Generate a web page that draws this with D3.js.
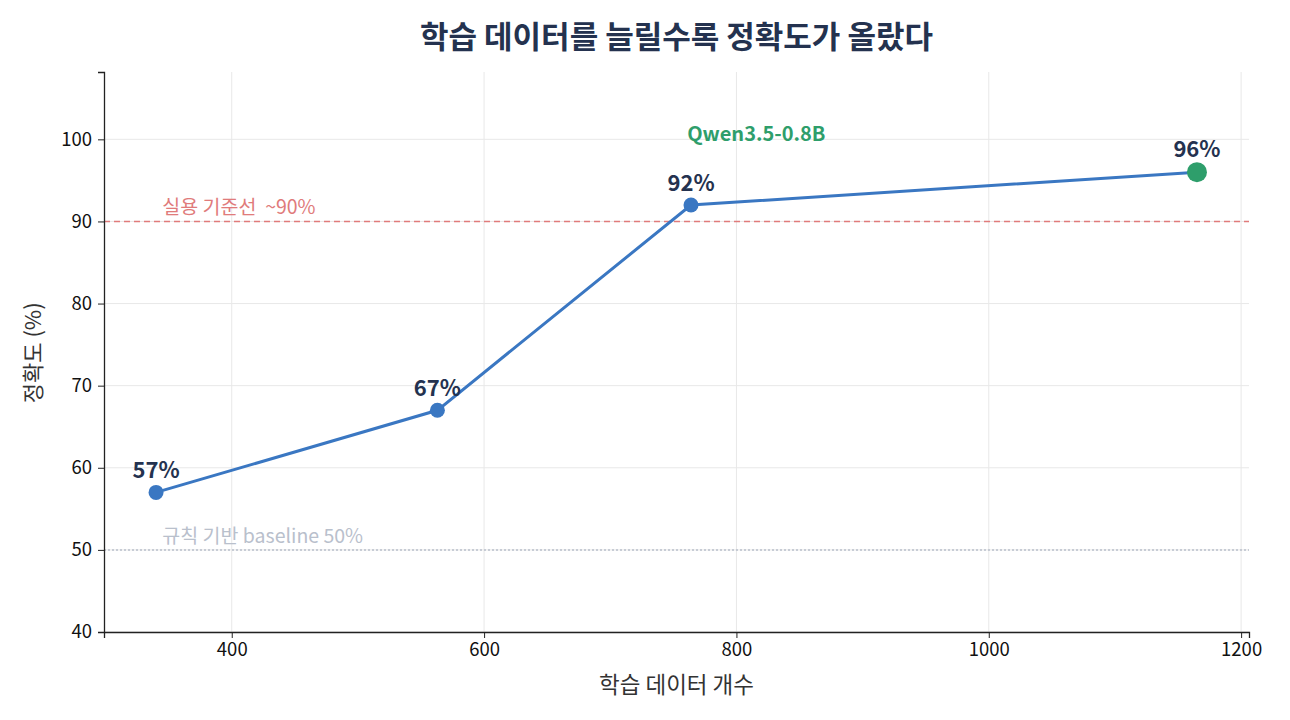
<!DOCTYPE html>
<html>
<head>
<meta charset="utf-8">
<script src="https://cdn.jsdelivr.net/npm/d3@7"></script>
<style>
  body { margin: 0; background: #fff; }
  svg text { font-family: 'Noto Sans CJK KR', 'Noto Sans', sans-serif; }
  .grid line { stroke: #e8e8e8; stroke-width: 1; }
  .axis path, .axis line { stroke: #222; }
  .axis text { font-size: 18.5px; fill: #111; }
</style>
</head>
<body>
<div id="chart"></div>
<script>
// 데이터
const sampleCounts = [340, 563, 764, 1165];
const accuracy = [57, 67, 92, 96];
const pointLabels = ["57%", "67%", "92%", "96%"];
const xTicks = [400, 600, 800, 1000, 1200];
const yTicks = [40, 50, 60, 70, 80, 90, 100];
const refLines = [
  { value: 90, label: "실용 기준선 ~90%", color: "#e07b7b", dash: "6,4" },
  { value: 50, label: "규칙 기반 baseline 50%", color: "#b9c0cc", dash: "2,2" }
];
const modelName = "Qwen3.5-0.8B";

const W = 1290, H = 720;
const margin = { top: 72, right: 41, bottom: 88, left: 104 };
const width = W - margin.left - margin.right;
const height = H - margin.top - margin.bottom;

const svg = d3.select("#chart").append("svg")
  .attr("width", W)
  .attr("height", H);

const g = svg.append("g")
  .attr("transform", `translate(${margin.left},${margin.top})`);

// 스케일 (matplotlib 기본 여백 5%)
const xPad = (d3.max(sampleCounts) - d3.min(sampleCounts)) * 0.05;
const x = d3.scaleLinear()
  .domain([d3.min(sampleCounts) - xPad, d3.max(sampleCounts) + xPad])
  .range([0, width]);
const y = d3.scaleLinear()
  .domain([40, 108.2])
  .range([height, 0]);

// 그리드
g.append("g").attr("class", "grid")
  .selectAll("line").data(xTicks).enter().append("line")
  .attr("x1", d => x(d)).attr("x2", d => x(d))
  .attr("y1", 0).attr("y2", height);
g.append("g").attr("class", "grid")
  .selectAll("line").data(yTicks).enter().append("line")
  .attr("x1", 0).attr("x2", width)
  .attr("y1", d => y(d)).attr("y2", d => y(d));

// 기준선
refLines.forEach(r => {
  g.append("line")
    .attr("x1", 0).attr("x2", width)
    .attr("y1", y(r.value)).attr("y2", y(r.value))
    .attr("stroke", r.color)
    .attr("stroke-width", 1.5)
    .attr("stroke-dasharray", r.dash);
  g.append("text")
    .attr("x", x(345))
    .attr("y", y(r.value + 0.85))
    .attr("font-size", 19.5)
    .attr("fill", r.color)
    .attr("xml:space", "preserve")
    .text(r.label.replace(" ~", "  ~"));
});

// 축
g.append("g").attr("class", "axis")
  .attr("transform", `translate(0,${height})`)
  .call(d3.axisBottom(x).tickValues(xTicks).tickSize(6).tickPadding(5).tickFormat(d3.format("d")))
  .call(s => s.select(".domain").attr("stroke-width", 1.3));
g.append("g").attr("class", "axis")
  .call(d3.axisLeft(y).tickValues(yTicks).tickSize(6).tickPadding(6).tickFormat(d3.format("d")))
  .call(s => s.select(".domain").attr("stroke-width", 1.3));

// 축 제목
svg.append("text")
  .attr("x", margin.left + width / 2)
  .attr("y", 693)
  .attr("text-anchor", "middle")
  .attr("font-size", 22.5)
  .attr("fill", "#333")
  .text("학습 데이터 개수");
svg.append("text")
  .attr("transform", `translate(41,${margin.top + y(74)})rotate(-90)`)
  .attr("text-anchor", "middle")
  .attr("font-size", 22)
  .attr("fill", "#333")
  .text("정확도 (%)");

// 제목
svg.append("text")
  .attr("x", margin.left + width / 2)
  .attr("y", 48)
  .attr("text-anchor", "middle")
  .attr("font-size", 31)
  .attr("font-weight", "bold")
  .attr("fill", "#24324f")
  .text("학습 데이터를 늘릴수록 정확도가 올랐다");

// 선
const pts = sampleCounts.map((c, i) => ({ x: c, y: accuracy[i], label: pointLabels[i] }));
const line = d3.line().x(d => x(d.x)).y(d => y(d.y));
g.append("path")
  .datum(pts)
  .attr("fill", "none")
  .attr("stroke", "#3a77c2")
  .attr("stroke-width", 3)
  .attr("d", line);

const last = pts.length - 1;
g.selectAll(".dot").data(pts).enter().append("circle")
  .attr("cx", d => x(d.x))
  .attr("cy", d => y(d.y))
  .attr("r", (d, i) => i === last ? 10 : 7.5)
  .attr("fill", (d, i) => i === last ? "#2e9e6b" : "#3a77c2");

g.selectAll(".lbl").data(pts).enter().append("text")
  .attr("x", d => x(d.x))
  .attr("y", (d, i) => y(d.y) - (i === last ? 15 : 14))
  .attr("text-anchor", "middle")
  .attr("font-size", 22)
  .attr("font-weight", "bold")
  .attr("fill", "#24324f")
  .text(d => d.label);

// 모델 이름
g.append("text")
  .attr("x", x(761))
  .attr("y", y(99.8))
  .attr("text-anchor", "start")
  .attr("font-size", 20)
  .attr("font-weight", "bold")
  .attr("fill", "#2e9e6b")
  .text(modelName);
</script>
</body>
</html>
